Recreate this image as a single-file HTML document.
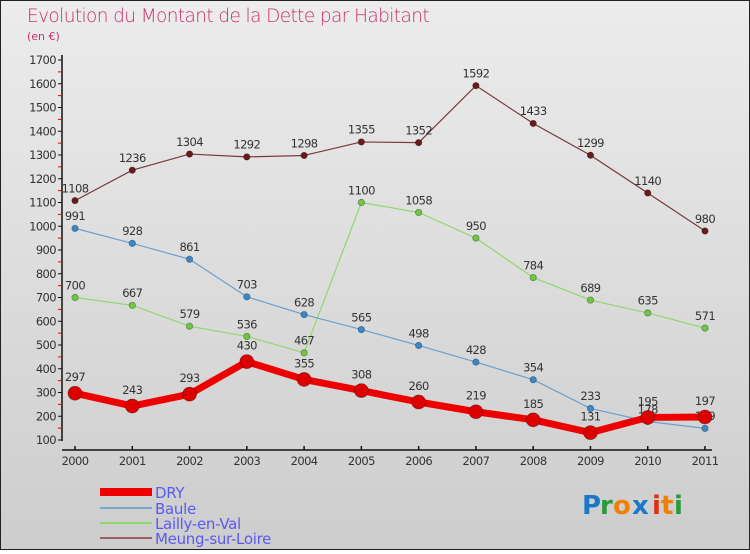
<!DOCTYPE html>
<html><head><meta charset="utf-8"><style>
html,body{margin:0;padding:0}
body{width:750px;height:550px;overflow:hidden;font-family:"DejaVu Sans","Liberation Sans",sans-serif}
svg text{font-family:"DejaVu Sans","Liberation Sans",sans-serif}
</style></head><body>
<svg id="chart" width="750" height="550" xmlns="http://www.w3.org/2000/svg">
<defs><linearGradient id="bg" x1="0" y1="0" x2="0" y2="1"><stop offset="0" stop-color="#ececec"/><stop offset="1" stop-color="#cdcdcd"/></linearGradient></defs>
<rect x="0.5" y="0.5" width="749" height="549" fill="url(#bg)" stroke="#222"/>
<text x="27" y="22" font-size="18.5" font-weight="300" fill="#c8306e" letter-spacing="-0.6">Evolution du Montant de la Dette par Habitant</text>
<text x="27" y="40" font-size="11" fill="#c8306e">(en €)</text>
<g id="axes"></g><g id="series"></g>
<g>
<rect x="100" y="488" width="52" height="8" fill="#e00"/>
<text x="155" y="498" font-size="15" fill="#5a5af0" letter-spacing="-0.3">DRY</text>
<rect x="100" y="507" width="52" height="2" fill="#7aa8c8"/>
<text x="155" y="514" font-size="15" fill="#5a5af0" letter-spacing="-0.3">Baule</text>
<rect x="100" y="522" width="52" height="2" fill="#90d870"/>
<text x="155" y="529" font-size="15" fill="#5a5af0" letter-spacing="-0.3">Lailly-en-Val</text>
<rect x="100" y="537" width="52" height="2" fill="#9a6060"/>
<text x="155" y="544" font-size="15" fill="#5a5af0" letter-spacing="-0.3">Meung-sur-Loire</text>
</g>
<g font-size="26" font-weight="bold">
<text x="582" y="514" fill="#1a78c8">P</text><text x="600" y="514" fill="#2a9a3a">r</text><text x="613" y="514" fill="#f08000">o</text><text x="632" y="514" fill="#1a78c8">x</text><text x="652" y="514" fill="#e03010">i</text><text x="661" y="514" fill="#f08000">t</text><text x="674" y="514" fill="#2a9a3a">i</text>
</g>
</svg>
<script>
const years=[2000,2001,2002,2003,2004,2005,2006,2007,2008,2009,2010,2011];
const dry=[297,243,293,430,355,308,260,219,185,131,195,197];
const baule=[991,928,861,703,628,565,498,428,354,233,178,149];
const lailly=[700,667,579,536,467,1100,1058,950,784,689,635,571];
const meung=[1108,1236,1304,1292,1298,1355,1352,1592,1433,1299,1140,980];
const yTicks=[100,200,300,400,500,600,700,800,900,1000,1100,1200,1300,1400,1500,1600,1700];
const NS="http://www.w3.org/2000/svg";
const X=i=>75+i*(630/11);
const Y=v=>440-(v-100)*(380/1600);
function el(tag,attrs,parent,text){const e=document.createElementNS(NS,tag);for(const k in attrs)e.setAttribute(k,attrs[k]);if(text!==undefined)e.textContent=text;parent.appendChild(e);return e;}
const axes=document.getElementById('axes');
const ya=el('line',{x1:62,y1:55,x2:62,y2:441,stroke:'#111','stroke-width':1.5},axes);


const xa=el('line',{x1:62,y1:450,x2:712,y2:450,stroke:'#111','stroke-width':1.5},axes);


yTicks.forEach((t,i)=>{
  el('line',{x1:58,y1:Y(t),x2:62,y2:Y(t),stroke:'#111'},axes);
  if(i<yTicks.length-1) el('line',{x1:58,y1:Y(t+50),x2:61,y2:Y(t+50),stroke:'#e00'},axes);
  const tx=el('text',{x:56,y:Y(t)+4,'font-size':11.5,'text-anchor':'end',fill:'#333','letter-spacing':'-0.6'},axes,t);
  
  
});
years.forEach((y,i)=>{
  el('line',{x1:X(i),y1:446,x2:X(i),y2:450,stroke:'#111','stroke-width':1.5},axes);
  const tx=el('text',{x:X(i),y:465,'font-size':11.5,'text-anchor':'middle',fill:'#333','letter-spacing':'-0.6'},axes,y);
  
  
});
const series=document.getElementById('series');
function draw(vals,name,color,dot,w,r){
  const g=el('g',{},series);
  
  
  el('polyline',{points:vals.map((v,i)=>X(i)+','+Y(v)).join(' '),fill:'none',stroke:color,'stroke-width':w,'stroke-linejoin':'round'},g);
  vals.forEach((v,i)=>{
    const c=el('circle',{cx:X(i),cy:Y(v),r:r,fill:dot,stroke:'rgba(0,0,0,0.35)','stroke-width':0.8},g);
    
    
    const t=el('text',{x:X(i),y:Y(v)-r-5,'font-size':11.5,'text-anchor':'middle',fill:'#333','letter-spacing':'-0.6'},g,v);
    
    
  });
}
draw(meung,'meung','#7a3a3a','#6a1a1a',1.2,3.2);
draw(lailly,'lailly','#90d870','#70c840',1.2,3.2);
draw(baule,'baule','#6aa0d0','#3a88c8',1.2,3.2);
draw(dry,'dry','#ee0000','#dd0000',7,7);
</script>
</body></html>
